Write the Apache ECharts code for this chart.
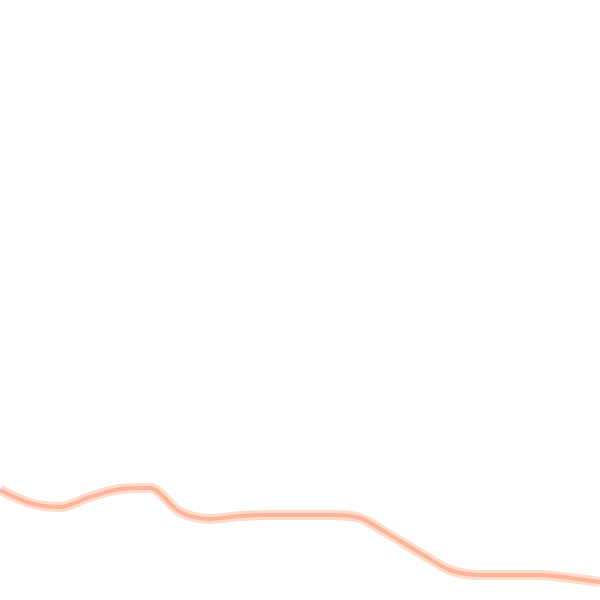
<!DOCTYPE html>
<html><head><meta charset="utf-8">
<script src="https://cdn.jsdelivr.net/npm/echarts@6/dist/echarts.min.js"></script>
<style>html,body{margin:0;padding:0;background:#fff}#c{width:600px;height:600px}</style>
</head><body><div id="c"></div>
<script>
var categories = ['0','1','2','3','4','5','6','7','8','9','10','11','12','13','14','15','16','17','18','19','20'];
var values = [110, 97, 93, 103, 111, 112, 88, 81, 84, 85, 85, 85, 82, 65, 47, 30, 25, 25, 25, 22, 18];
var chart = echarts.init(document.getElementById('c'));
chart.setOption({
  animation: false,
  backgroundColor: '#ffffff',
  grid: {left: 0, right: 0, top: 0, bottom: 0},
  xAxis: {type: 'category', data: categories, boundaryGap: false, show: false},
  yAxis: {type: 'value', min: 0, max: 600, show: false},
  series: [
    {type: 'line', data: values, smooth: 0.3, symbol: 'none', lineStyle: {color: '#ffdcc9', width: 10}},
    {type: 'line', data: values, smooth: 0.3, symbol: 'none', lineStyle: {color: '#fcb59d', width: 4}}
  ]
});
</script></body></html>
